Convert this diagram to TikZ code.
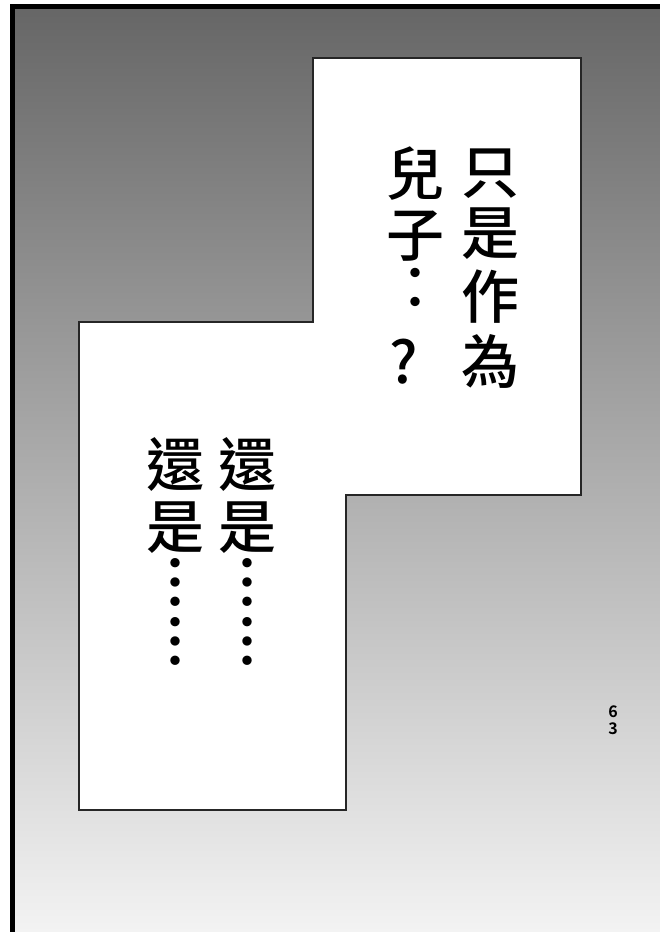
\documentclass[tikz,border=0pt]{standalone}
\usepackage{fontspec}
\newfontfamily\cjk{Noto Sans CJK TC}[UprightFont=* Medium,BoldFont=* Bold]
\definecolor{bgtop}{RGB}{102,102,102}
\definecolor{bgbot}{RGB}{243,243,243}

\begin{document}
\begin{tikzpicture}[x=1pt,y=-1pt,
	zi/.style={font=\cjk\fontsize{58}{58}\selectfont,inner sep=0pt},
	dian/.style={font=\cjk\bfseries\fontsize{58}{58}\selectfont,inner sep=0pt},
	yema/.style={font=\cjk\bfseries\fontsize{16}{16}\selectfont,inner sep=0pt}]
	\useasboundingbox (0,0) rectangle (660,932);
	\clip (0,0) rectangle (660,932);
	% panel
	\shade[top color=bgtop,bottom color=bgbot] (12.5,6.5) rectangle (670,932);
	\draw[line width=5pt] (12.5,950) |- (680,6.5);
	% caption box
	\draw[fill=white,line width=2pt,draw=black!85] (313,58) -- (581,58) -- (581,495) -- (346,495)
		-- (346,810) -- (79,810) -- (79,322) -- (313,322) -- cycle;
	
	\foreach \c/\y [count=\i] in {只/174,是/234,作/297,為/361}
		\node[zi] (r\i) at (490,\y) {\c};
	\foreach \c/\y [count=\i] in {兒/174,子/236}
		\node[zi] (s\i) at (415,\y) {\c};
	\node[dian] (s3) at (415,289) {︰};
	\node[zi] (s4) at (404,362) {?};
	
	\foreach \x/\k in {247/a,175/b}{
		\node[zi] (\k1) at (\x,465) {還};
		\node[zi] (\k2) at (\x,528) {是};
		\node[dian] (\k3) at (\x,582) {︙};
		\node[dian] (\k4) at (\x,641) {︙};
	}
	
	\node[yema] (p1) at (613,712) {6};
	\node[yema] (p2) at (613,729) {3};
\end{tikzpicture}
\end{document}
